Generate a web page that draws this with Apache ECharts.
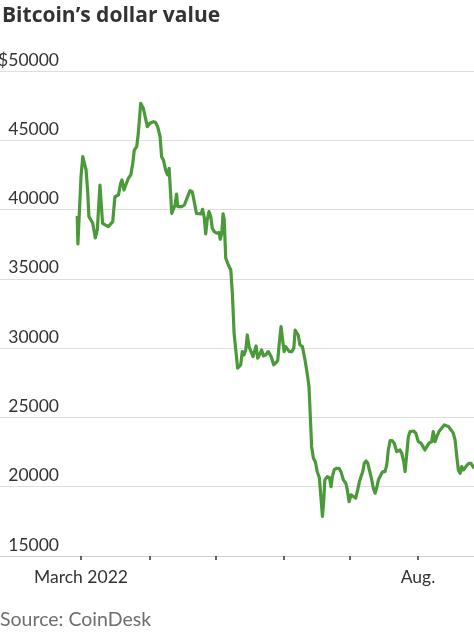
<!DOCTYPE html>
<html>
<head>
<meta charset="utf-8">
<script src="https://cdn.jsdelivr.net/npm/echarts@6/dist/echarts.min.js"></script>
<style>
html,body{margin:0;padding:0;background:#fff;}
#chart{width:474px;height:632px;}
</style>
</head>
<body>
<div id="chart"></div>
<script>
// Days since 1 March 2022 (fractional, intraday samples) and BTC price in USD
var dayOffsets = [-1.7,-1.4,0,0.8,1.7,2.3,3.0,3.6,4.4,5.3,6.5,7.4,8.6,9.8,11,12.4,13.2,14.4,15.4,16.2,17,18,18.6,19.5,20.4,21.5,22.6,23.5,24.2,25.3,26,27.1,27.7,28.3,29.2,30.1,31.3,32.8,33.8,34.8,35.9,36.6,37.4,38.4,39.3,40.0,40.6,41.2,41.9,42.7,43.4,43.9,44.5,45.7,46.9,48.4,49.5,50.5,51.4,52.4,53.3,54.5,55.2,56.0,56.6,57.3,58.1,58.9,59.6,60.5,61.6,62.7,63.2,63.9,64.5,65.0,65.7,66.9,68.0,68.7,69.5,70.4,71.1,71.9,72.5,73.2,74.0,74.8,75.5,76.3,77.2,78.1,78.7,79.5,80.2,81.0,82.0,82.8,83.8,85.0,86.3,87.5,88.1,89.3,90.0,90.8,91.6,92.2,92.9,93.8,94.6,95.7,96.6,97.2,97.9,98.6,99.4,100.5,101.7,102.9,103.5,104.1,104.7,105.5,106.4,107.2,108.2,109.0,109.6,110.2,110.7,111.8,112.8,113.5,114.1,115.0,116.1,117.1,118.0,119.1,120.2,120.9,121.7,122.6,123.6,124.7,125.6,126.4,127.1,127.9,128.6,129.4,130.2,130.9,132.0,132.7,133.5,134.2,135.0,136.1,137.0,138.0,138.8,139.5,140.3,141.3,142.2,143.3,144.0,144.8,145.6,146.5,147.1,147.9,148.6,149.4,150.9,152.0,153.1,154.4,155.2,156.1,157.0,158.0,159.2,159.9,160.7,161.5,162.5,163.7,164.9,165.7,166.8,168.0,169.0,169.8,170.6,171.3,172.1,172.8,173.6,174.7,176.0,177.0,178.4];
var prices = [39540,37520,42370,43820,43870,42860,41410,39490,39370,39030,37950,38530,41770,39010,38890,38770,38740,39130,40930,40830,41050,41900,42140,41410,41290,42260,42500,43340,44300,44540,45500,47670,47790,47310,47190,45980,46230,46340,46300,45980,45260,43820,43580,42860,42500,42980,42860,39730,39610,40330,41120,40210,40330,40210,40330,40930,41370,41290,40570,39730,39610,39680,40020,39370,38240,39250,39850,39490,38650,38410,38290,38340,37860,38290,39700,39300,36500,36000,35640,33960,31070,30950,28550,28430,28790,29750,29510,29870,30950,30110,29990,29390,29750,30160,29270,29510,29870,29440,29510,29750,29390,28790,28910,29100,30350,31550,31670,29750,30110,30110,29750,29750,29990,31310,31430,30950,30230,30110,29150,27940,27220,25050,22890,22050,21800,21100,20650,20650,17860,19040,20490,20730,20650,20000,20730,21250,21330,21330,21090,20490,20250,19770,18920,19410,19290,19170,19770,20370,20490,21090,21690,21860,21690,21210,20490,19890,19530,19890,20490,20850,21090,21090,21570,22650,23320,23320,23140,22530,22410,22650,22410,21810,21090,22410,23610,23980,24020,23860,23250,23140,23250,22650,22890,23140,23250,23980,23250,23610,23980,24220,24460,24530,24340,24100,23860,23380,22170,21210,20970,21450,21210,21450,21690,21690,21330];
// Month starts as days since 1 March 2022
var monthTickDays = [0,31,61,92,122,153];
var monthTickNames = ['March 2022','','','','','Aug.'];
var yTicks = [15000,20000,25000,30000,35000,40000,45000,50000];

var seriesData = dayOffsets.map(function(d,i){ return [d, prices[i]]; });
var labelDays = [], labelMap = {};
monthTickDays.forEach(function(d,i){ if(monthTickNames[i]){ labelDays.push(d); labelMap[d]=monthTickNames[i]; } });

var chart = echarts.init(document.getElementById('chart'), null, {renderer:'canvas'});
chart.setOption({
  animation:false,
  backgroundColor:'#fff',
  title:[{
    text:'Bitcoin\u2019s dollar value',
    left:2, top:6, padding:0,
    textStyle:{fontFamily:'Open Sans',fontWeight:'bold',fontSize:21,color:'#333'}
  },{
    text:'Source: CoinDesk',
    left:0, top:610, padding:0,
    textStyle:{fontFamily:'Lato',fontWeight:'normal',fontSize:19.5,color:'#6e6e6e'}
  }],
  grid:{left:0,right:0,top:71,bottom:76,containLabel:false,outerBoundsMode:'none'},
  xAxis:{
    type:'value',
    min:-36.77,
    max:178.4,
    axisLine:{show:true,lineStyle:{color:'#cfcfcf',width:1}},
    axisTick:{show:true,length:4,lineStyle:{color:'#333',width:1.5},customValues:monthTickDays},
    axisLabel:{
      customValues:labelDays,
      formatter:function(v){ return labelMap[v] || ''; },
      margin:12,
      fontFamily:'Lato',fontSize:17.5,color:'#333'
    },
    splitLine:{show:false}
  },
  yAxis:{
    type:'value',
    min:yTicks[0], max:yTicks[yTicks.length-1], interval:5000,
    axisLine:{show:false},
    axisTick:{show:false},
    splitLine:{show:true,lineStyle:{color:'#dedede',width:1}},
    axisLabel:{
      inside:true, align:'right', verticalAlign:'bottom', margin:59,
      padding:[0,0,2,0],
      fontFamily:'Lato',fontSize:17.5,color:'#333',
      formatter:function(v){ return v===50000 ? '$'+v : String(v); }
    }
  },
  series:[{
    type:'line',
    data:seriesData,
    showSymbol:false,
    symbol:'none',
    lineStyle:{color:'#4a9a3a',width:3.2,join:'round'},
    clip:true
  }]
});
</script>
</body>
</html>
